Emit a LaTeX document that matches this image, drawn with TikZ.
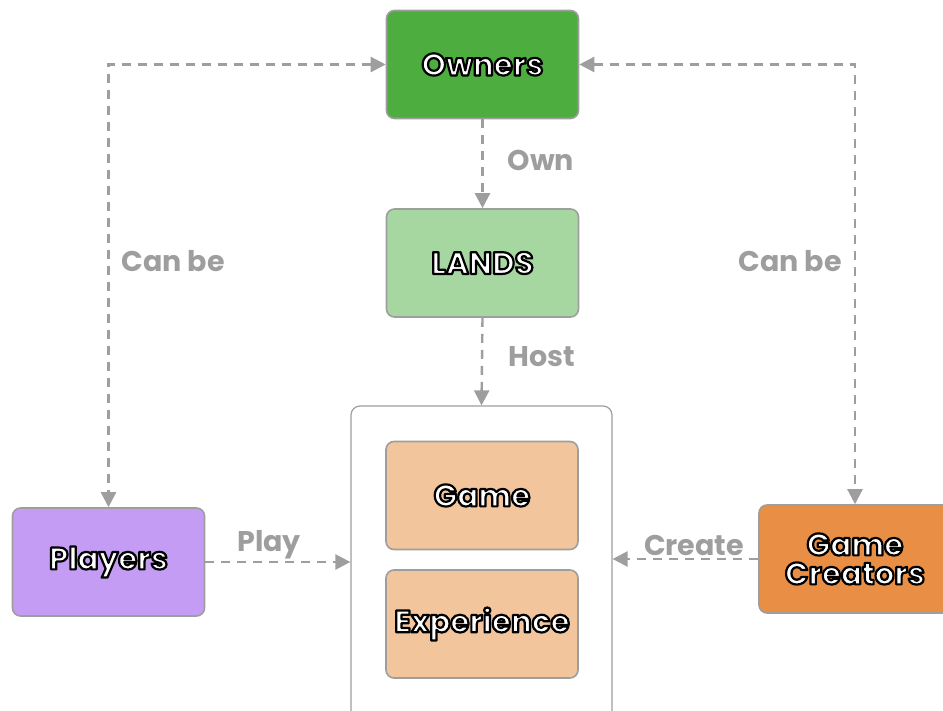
\documentclass[tikz,border=0pt]{standalone}
\usepackage{fontspec}
\setmainfont{Poppins}
\usetikzlibrary{arrows.meta}
\definecolor{linegray}{HTML}{9E9E9E}
\definecolor{ownergreen}{HTML}{4DAE3F}
\definecolor{landgreen}{HTML}{A6D7A0}
\definecolor{peach}{HTML}{F2C59D}
\definecolor{lavender}{HTML}{C49CF3}
\definecolor{orangebox}{HTML}{E88F45}
% white letters with a thin black outline (fill, then stroke)
\newcommand{\boxtext}[1]{\textcolor{white}{\special{pdf:literal direct 2 Tr 2.2 w 1 j 0 0 0 RG}#1\special{pdf:literal direct 0 Tr}}}
\tikzset{
  card/.style={draw=linegray, line width=1.6pt, rounded corners=8pt,
    minimum width=192pt, minimum height=108pt, align=center,
    font=\fontsize{31}{29}\selectfont\bfseries},
  flow/.style={draw=linegray, line width=2.4pt, dash pattern=on 9pt off 7pt,
    -{Triangle[length=15pt,width=15pt]}},
  twoway/.style={flow, {Triangle[length=15pt,width=15pt]}-{Triangle[length=15pt,width=15pt]}},
  lbl/.style={text=linegray, font=\fontsize{28.5}{30}\selectfont\bfseries}
}
\begin{document}
\begin{tikzpicture}[x=1pt, y=-1pt]
  \useasboundingbox (0,0) rectangle (943,711);
  \clip (0,0) rectangle (943,711);

  % outer frame holding the two kinds of content
  \node[draw=linegray, line width=1.2pt, rounded corners=9pt, fill=white,
        minimum width=261pt, minimum height=330pt] (frame) at (481.5,571) {};

  \node[card, fill=ownergreen] (owners) at (482.5,64.5) {\boxtext{Owners}};
  \node[card, fill=landgreen] (lands) at (482.5,263) {\boxtext{LANDS}};
  \node[card, fill=peach] (game) at (482,495.5) {\boxtext{Game}};
  \node[card, fill=peach] (exp) at (482,624) {\boxtext{Experience}};
  \node[card, fill=lavender] (players) at (108.5,562) {\boxtext{Players}};
  \node[card, fill=orangebox] (creators) at (855,559)
       {\boxtext{Game}\\\boxtext{Creators}};

  % connectors
  \draw[flow] (owners.south) -- (lands.north);
  \draw[flow] (lands.south) -- (frame.north);
  \draw[flow] (players.east) -- (players.east -| frame.west);
  \draw[flow] (creators.west) -- (creators.west -| frame.east);
  \draw[twoway] (owners.west) -| (players.north);
  \draw[twoway] (owners.east) -| (creators.north);

  % connector labels
  \node[lbl] (lown) at (541,160) {Own};
  \node[lbl] (lhost) at (542,357) {Host};
  \node[lbl] (lplay) at (269,545) {Play};
  \node[lbl] (lcreate) at (694,545) {Create};
  \node[lbl] (lcanl) at (173,261) {Can be};
  \node[lbl] (lcanr) at (790,261) {Can be};
\end{tikzpicture}
\end{document}
